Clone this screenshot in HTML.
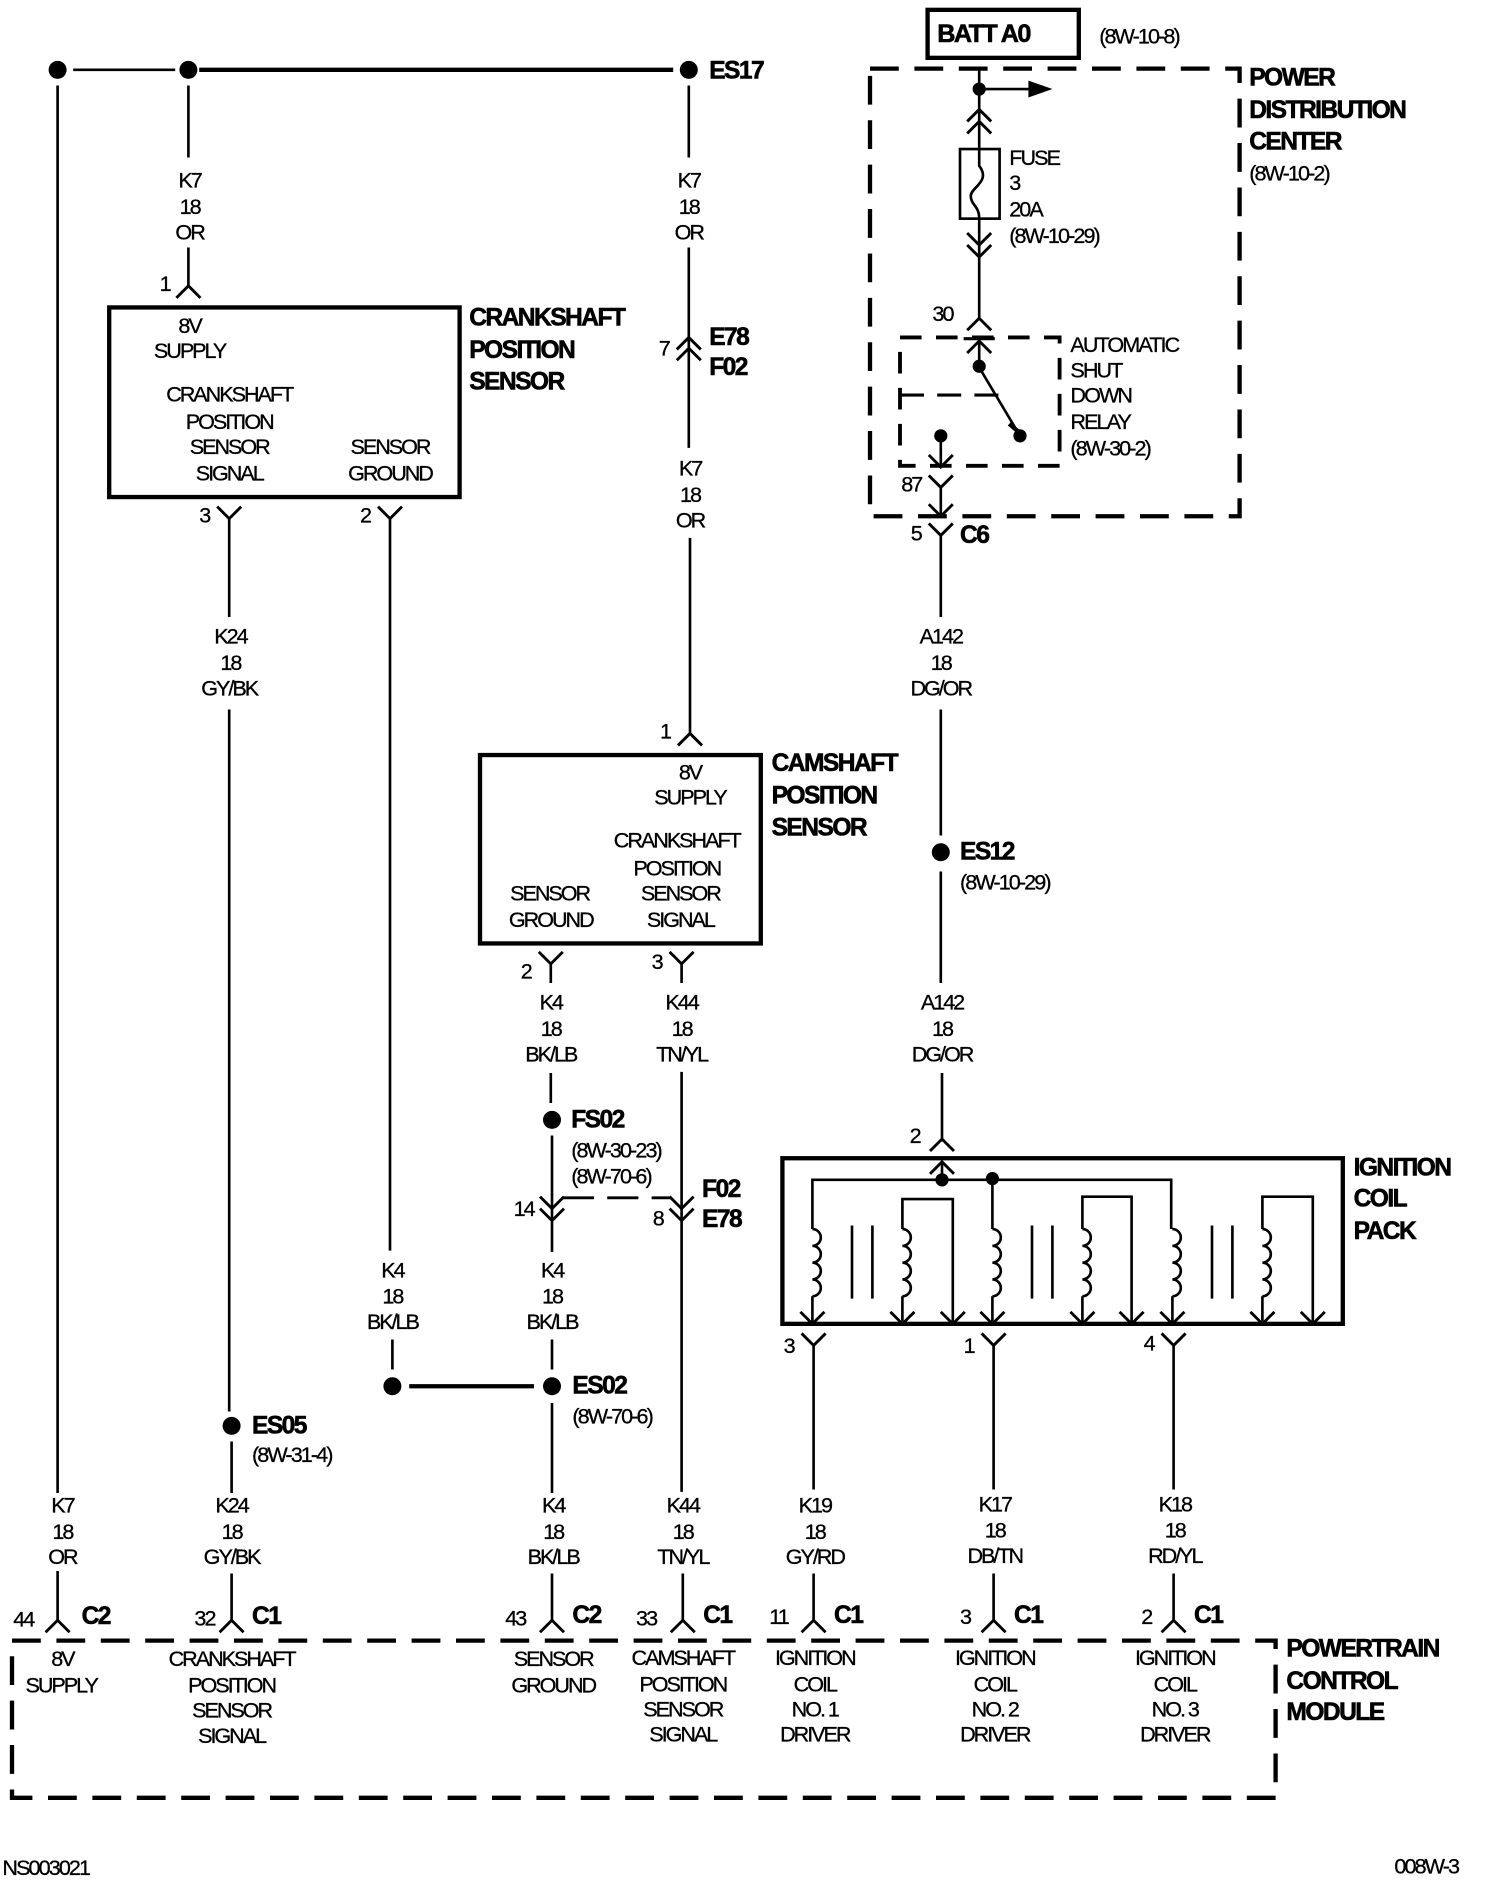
<!DOCTYPE html>
<html><head><meta charset="utf-8"><style>
html,body{margin:0;padding:0;background:#fff}
svg{display:block}
text{font-family:"Liberation Sans",sans-serif;fill:#000;dominant-baseline:central}
.t{font-size:18px;letter-spacing:-1.7px;text-anchor:middle;stroke:#000;stroke-width:.25}
.l{font-size:18px;letter-spacing:-1.6px;stroke:#000;stroke-width:.25}
.b{font-size:20.5px;font-weight:bold;letter-spacing:-1.3px;stroke:#000;stroke-width:.5}
.w{fill:none;stroke:#000;stroke-width:2.2}
.k{fill:none;stroke:#000;stroke-width:3.6}
.d{fill:none;stroke:#000;stroke-width:3.6;stroke-dasharray:24 13}
.e{fill:none;stroke:#000;stroke-width:3.2;stroke-dasharray:18 12}
</style></head><body>
<svg xmlns="http://www.w3.org/2000/svg" width="1504" height="1884" viewBox="0 0 1253.33 1570">
<defs>
<path id="u" d="M-10 10L0 0L10 10" fill="none" stroke="#000" stroke-width="2.4"/>
<path id="v" d="M-10 -10L0 0L10 -10" fill="none" stroke="#000" stroke-width="2.4"/>
<path id="c" d="M0 0a7 7 0 0 1 0 14a7 7 0 0 1 0 14a7 7 0 0 1 0 14a7 7 0 0 1 0 14" fill="none" stroke="#000" stroke-width="2.2"/>
</defs>
<rect width="1253.33" height="1570" fill="#fff"/>
<g transform="translate(1,1.2)">

<!-- top bus -->
<circle cx="47" cy="57" r="7.5"/><circle cx="156" cy="57" r="7.5"/><circle cx="573" cy="57" r="7.5"/>
<path class="w" d="M60 57H145"/><path class="k" d="M165 57H560"/>
<text class="b" x="590" y="58">ES17</text>

<!-- left wire -->
<path class="w" d="M47 70V1243M47 1308V1349"/>
<use href="#u" x="47" y="1349"/>
<text class="t" x="51" y="1253">K7</text><text class="t" x="51" y="1275">18</text><text class="t" x="51" y="1296">OR</text>
<text class="l" x="10" y="1348">44</text><text class="b" x="67" y="1346">C2</text>

<!-- K7 156 -->
<path class="w" d="M156 70V130M156 205V237"/><use href="#u" x="156" y="237"/>
<text class="t" x="157" y="149">K7</text><text class="t" x="157" y="171">18</text><text class="t" x="157" y="192">OR</text>
<text class="l" x="132" y="235">1</text>

<!-- crank box -->
<rect class="k" x="90" y="255" width="292" height="158"/>
<text class="t" x="157" y="270">8V</text><text class="t" x="157" y="291">SUPPLY</text>
<text class="t" x="190" y="327">CRANKSHAFT</text><text class="t" x="190" y="350">POSITION</text><text class="t" x="190" y="371">SENSOR</text><text class="t" x="190" y="393">SIGNAL</text>
<text class="t" x="324" y="371">SENSOR</text><text class="t" x="324" y="393">GROUND</text>
<text class="b" x="390" y="264">CRANKSHAFT</text><text class="b" x="390" y="291">POSITION</text><text class="b" x="390" y="317">SENSOR</text>

<!-- K24 -->
<use href="#v" x="190" y="431"/><path class="w" d="M190 431V513M190 590V1175M192 1200V1243M192 1310V1349"/>
<text class="l" x="165" y="428">3</text>
<text class="t" x="191" y="529">K24</text><text class="t" x="191" y="551">18</text><text class="t" x="190" y="572">GY/BK</text>
<circle cx="192" cy="1187" r="7.5"/><text class="b" x="209" y="1187">ES05</text><text class="l" x="209" y="1211">(8W-31-4)</text>
<text class="t" x="192" y="1253">K24</text><text class="t" x="192" y="1275">18</text><text class="t" x="192" y="1296">GY/BK</text>
<use href="#u" x="192" y="1349"/><text class="l" x="161" y="1347">32</text><text class="b" x="209" y="1346">C1</text>

<!-- K4 324 -->
<use href="#v" x="324" y="431"/><path class="w" d="M324 431V1041M326 1115V1140"/>
<text class="l" x="299" y="428">2</text>
<text class="t" x="326" y="1057">K4</text><text class="t" x="326" y="1079">18</text><text class="t" x="326" y="1100">BK/LB</text>
<circle cx="326" cy="1154" r="7.5"/><path class="k" d="M340 1154H444"/><circle cx="459" cy="1154" r="7.5"/>
<text class="b" x="476" y="1154">ES02</text><text class="l" x="476" y="1179">(8W-70-6)</text>

<!-- K7 573 -->
<path class="w" d="M573 70V130M573 205V372M574 447V610"/>
<use href="#u" x="573" y="280"/><use href="#u" x="573" y="289"/><use href="#u" x="574" y="610"/>
<text class="t" x="573" y="149">K7</text><text class="t" x="573" y="171">18</text><text class="t" x="573" y="192">OR</text>
<text class="b" x="590" y="280">E78</text><text class="b" x="590" y="305">F02</text><text class="l" x="548" y="289">7</text>
<text class="t" x="574" y="389">K7</text><text class="t" x="574" y="411">18</text><text class="t" x="574" y="432">OR</text>
<text class="l" x="549" y="608">1</text>

<!-- cam box -->
<rect class="k" x="399" y="628" width="234" height="157"/>
<text class="t" x="574" y="642">8V</text><text class="t" x="574" y="663">SUPPLY</text>
<text class="t" x="563" y="699">CRANKSHAFT</text><text class="t" x="563" y="722">POSITION</text><text class="t" x="566" y="743">SENSOR</text><text class="t" x="566" y="765">SIGNAL</text>
<text class="t" x="457" y="743">SENSOR</text><text class="t" x="458" y="765">GROUND</text>
<text class="b" x="642" y="635">CAMSHAFT</text><text class="b" x="642" y="662">POSITION</text><text class="b" x="642" y="689">SENSOR</text>

<!-- K4 458 -->
<use href="#v" x="458" y="802"/><path class="w" d="M458 802V818M458 893V918M459 945V1042M459 1115V1140M459 1168V1243M459 1310V1349"/>
<text class="l" x="433" y="808">2</text>
<text class="t" x="458" y="834">K4</text><text class="t" x="458" y="856">18</text><text class="t" x="458" y="877">BK/LB</text>
<circle cx="459" cy="932" r="7.5"/><text class="b" x="475" y="932">FS02</text>
<text class="l" x="475" y="957">(8W-30-23)</text><text class="l" x="475" y="979">(8W-70-6)</text>
<use href="#v" x="459" y="1006"/><use href="#v" x="459" y="1016"/>
<path d="M468 997H558" fill="none" stroke="#000" stroke-width="2.4" stroke-dasharray="26 11"/>
<text class="l" x="427" y="1006">14</text>
<text class="t" x="459" y="1057">K4</text><text class="t" x="459" y="1079">18</text><text class="t" x="459" y="1100">BK/LB</text>
<text class="t" x="460" y="1253">K4</text><text class="t" x="460" y="1275">18</text><text class="t" x="460" y="1296">BK/LB</text>
<use href="#u" x="459" y="1349"/><text class="l" x="420" y="1347">43</text><text class="b" x="476" y="1345">C2</text>

<!-- K44 -->
<use href="#v" x="567" y="802"/><path class="w" d="M567 802V818M567 892V1242M568 1310V1349"/>
<text class="l" x="542" y="800">3</text>
<text class="t" x="567" y="834">K44</text><text class="t" x="567" y="856">18</text><text class="t" x="567" y="877">TN/YL</text>
<use href="#v" x="567" y="1006"/><use href="#v" x="567" y="1016"/>
<text class="l" x="543" y="1014">8</text><text class="b" x="584" y="990">F02</text><text class="b" x="584" y="1015">E78</text>
<text class="t" x="568" y="1253">K44</text><text class="t" x="568" y="1275">18</text><text class="t" x="568" y="1296">TN/YL</text>
<use href="#u" x="568" y="1349"/><text class="l" x="529" y="1347">33</text><text class="b" x="585" y="1345">C1</text>

<!-- BATT + PDC -->
<rect class="k" x="772" y="7" width="126" height="40"/>
<text class="b" x="780" y="27" style="font-size:21px">BATT A0</text>
<text class="l" x="915" y="29">(8W-10-8)</text>
<rect class="d" x="724" y="56" width="308" height="373"/>
<text class="b" x="1040" y="64">POWER</text><text class="b" x="1040" y="91">DISTRIBUTION</text><text class="b" x="1040" y="117">CENTER</text>
<text class="l" x="1040" y="143">(8W-10-2)</text>
<path class="w" d="M815 56V123"/><circle cx="815" cy="73" r="5.5"/>
<path class="w" d="M815 73H858"/><path d="M856 66L876 73L856 80Z"/>
<use href="#u" x="815" y="90"/><use href="#u" x="815" y="100"/>
<rect fill="none" stroke="#000" stroke-width="2.2" x="799" y="123" width="33" height="58"/>
<path class="w" d="M815 123V137C825 150 808 155 808 162C808 170 815 170 815 181V212M815 212V265"/>
<use href="#v" x="815" y="203"/><use href="#v" x="815" y="213"/>
<text class="l" x="840" y="130">FUSE</text><text class="l" x="840" y="151">3</text><text class="l" x="840" y="173">20A</text><text class="l" x="840" y="195">(8W-10-29)</text>
<use href="#u" x="815" y="264"/><text class="l" x="776" y="260">30</text>
<rect class="e" x="749" y="280" width="133" height="107"/>
<path d="M749 328H836" fill="none" stroke="#000" stroke-width="2.6" stroke-dasharray="20 11"/>
<path class="k" d="M802 281H828" style="stroke-width:2.6"/>
<use href="#u" x="815" y="283"/><path class="w" d="M815 283V305L849 362"/><circle cx="815" cy="304" r="5.5"/><circle cx="849" cy="362" r="5.5"/>
<path d="M840 352L847 358" class="k"/>
<circle cx="783" cy="362" r="5.5"/><path class="w" d="M783 362V388"/><use href="#v" x="783" y="388"/>
<text class="l" x="891" y="286">AUTOMATIC</text><text class="l" x="891" y="307">SHUT</text><text class="l" x="891" y="328">DOWN</text><text class="l" x="891" y="350">RELAY</text><text class="l" x="891" y="372">(8W-30-2)</text>
<use href="#v" x="783" y="405"/><text class="l" x="750" y="402">87</text>
<path class="w" d="M783 405V430"/><use href="#v" x="783" y="429"/>
<use href="#v" x="783" y="445"/><path class="w" d="M783 445V513M783 590V695M783 725V818M784 893V950"/>
<text class="l" x="758" y="443">5</text><text class="b" x="799" y="445">C6</text>
<text class="t" x="783" y="529">A142</text><text class="t" x="783" y="551">18</text><text class="t" x="783" y="572">DG/OR</text>
<circle cx="783" cy="709" r="7.5"/><text class="b" x="799" y="709">ES12</text><text class="l" x="799" y="734">(8W-10-29)</text>
<text class="t" x="784" y="834">A142</text><text class="t" x="784" y="856">18</text><text class="t" x="784" y="877">DG/OR</text>

<!-- ignition coil pack -->
<use href="#u" x="784" y="948"/><text class="l" x="757" y="945">2</text>
<rect class="k" x="651" y="964" width="467" height="138"/>
<text class="b" x="1127" y="972">IGNITION</text><text class="b" x="1127" y="998">COIL</text><text class="b" x="1127" y="1025">PACK</text>
<use href="#u" x="784" y="967"/><path class="w" d="M784 967V982"/>
<path class="w" d="M676 1023V982H975V1023"/><circle cx="784" cy="982" r="5.5"/><circle cx="826" cy="981" r="5.5"/>
<path class="w" d="M826 981V1023"/>
<use href="#c" x="676" y="1023"/><use href="#c" x="826" y="1023"/><use href="#c" x="976" y="1023"/>
<use href="#c" x="751" y="1023"/><use href="#c" x="901" y="1023"/><use href="#c" x="1051" y="1023"/>
<path class="w" d="M676 1079V1102M826 1079V1102M976 1079V1102M751 1079V1102M901 1079V1102M1051 1079V1102"/>
<path class="w" d="M751 1023V998H793V1102M901 1023V996H942V1102M1051 1023V996H1093V1102"/>
<path class="w" d="M709 1020V1081M726 1020V1081M859 1020V1081M876 1020V1081M1009 1020V1081M1026 1020V1081"/>
<use href="#v" x="676" y="1102"/><use href="#v" x="751" y="1102"/><use href="#v" x="793" y="1102"/><use href="#v" x="826" y="1102"/><use href="#v" x="901" y="1102"/><use href="#v" x="942" y="1102"/><use href="#v" x="976" y="1102"/><use href="#v" x="1051" y="1102"/><use href="#v" x="1093" y="1102"/>
<use href="#v" x="677" y="1120"/><use href="#v" x="827" y="1120"/><use href="#v" x="977" y="1120"/>
<text class="l" x="652" y="1120">3</text><text class="l" x="802" y="1120">1</text><text class="l" x="952" y="1118">4</text>
<path class="w" d="M677 1120V1240M677 1310V1349M827 1120V1240M827 1310V1349M977 1120V1240M977 1310V1349"/>
<text class="t" x="678" y="1253">K19</text><text class="t" x="678" y="1275">18</text><text class="t" x="678" y="1296">GY/RD</text>
<text class="t" x="828" y="1252">K17</text><text class="t" x="828" y="1274">18</text><text class="t" x="828" y="1295">DB/TN</text>
<text class="t" x="978" y="1252">K18</text><text class="t" x="978" y="1274">18</text><text class="t" x="978" y="1295">RD/YL</text>
<use href="#u" x="677" y="1349"/><use href="#u" x="827" y="1349"/><use href="#u" x="977" y="1349"/>
<text class="l" x="640" y="1346">11</text><text class="b" x="694" y="1345">C1</text>
<text class="l" x="799" y="1346">3</text><text class="b" x="844" y="1345">C1</text>
<text class="l" x="950" y="1346">2</text><text class="b" x="994" y="1345">C1</text>

<!-- PCM -->
<rect class="d" x="9" y="1366" width="1053" height="131"/>
<text class="b" x="1071" y="1373">POWERTRAIN</text><text class="b" x="1071" y="1400">CONTROL</text><text class="b" x="1071" y="1426">MODULE</text>
<text class="t" x="51" y="1381">8V</text><text class="t" x="50" y="1403">SUPPLY</text>
<text class="t" x="192" y="1381">CRANKSHAFT</text><text class="t" x="192" y="1403">POSITION</text><text class="t" x="192" y="1424">SENSOR</text><text class="t" x="192" y="1445">SIGNAL</text>
<text class="t" x="460" y="1381">SENSOR</text><text class="t" x="460" y="1403">GROUND</text>
<text class="t" x="568" y="1380">CAMSHAFT</text><text class="t" x="568" y="1402">POSITION</text><text class="t" x="568" y="1423">SENSOR</text><text class="t" x="568" y="1444">SIGNAL</text>
<text class="t" x="678" y="1380">IGNITION</text><text class="t" x="678" y="1402">COIL</text><text class="t" x="678" y="1423">NO. 1</text><text class="t" x="678" y="1444">DRIVER</text>
<text class="t" x="828" y="1380">IGNITION</text><text class="t" x="828" y="1402">COIL</text><text class="t" x="828" y="1423">NO. 2</text><text class="t" x="828" y="1444">DRIVER</text>
<text class="t" x="978" y="1380">IGNITION</text><text class="t" x="978" y="1402">COIL</text><text class="t" x="978" y="1423">NO. 3</text><text class="t" x="978" y="1444">DRIVER</text>

<text class="l" x="1" y="1555">NS003021</text>
<text class="l" x="1161" y="1554">008W-3</text>
</g>
</svg>
</body></html>
